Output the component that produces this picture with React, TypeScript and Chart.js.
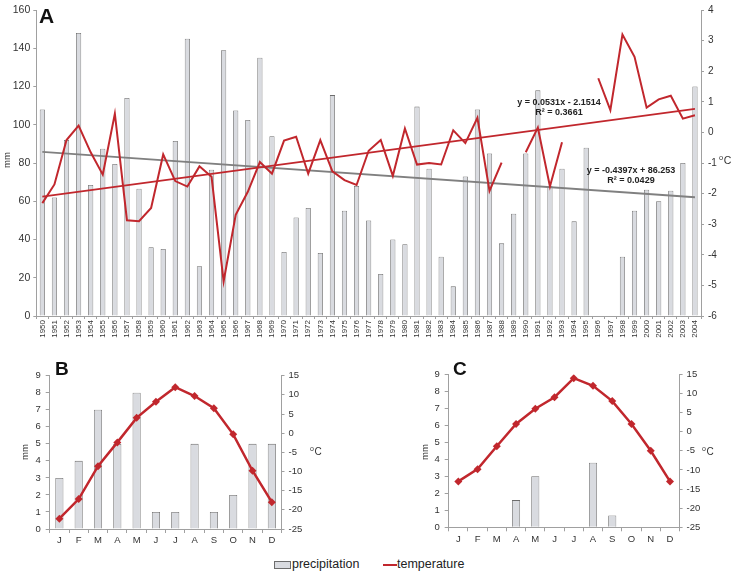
import React, { useEffect, useRef } from 'react';
import { Chart, registerables } from 'chart.js';
Chart.register(...registerables);

// ---------- DATA ----------
const years = [
  '1950','1951','1952','1953','1954','1955','1956','1957','1958','1959',
  '1960','1961','1962','1963','1964','1965','1966','1967','1968','1969',
  '1970','1971','1972','1973','1974','1975','1976','1977','1978','1979',
  '1980','1981','1982','1983','1984','1985','1986','1987','1988','1989',
  '1990','1991','1992','1993','1994','1995','1996','1997','1998','1999',
  '2000','2001','2002','2003','2004',
];
const precipA = [
  108, 62, 92, 148, 68.5, 87.5, 79.5, 114, 66.5, 36,
  35, 91.5, 145, 26, 76.5, 139, 107.5, 102.5, 135, 94,
  33.5, 51.5, 56.5, 33, 115.5, 55, 68, 50, 22, 40,
  37.5, 109.5, 77, 31, 15.5, 73, 108, 85, 38, 53.5,
  85, 118, 68, 77, 49.5, 88, null, null, 31, 55,
  66, 60, 65.5, 80, 120,
];
const tempA = [
  -2.31, -1.7, -0.25, 0.22, -0.65, -1.38, 0.61, -2.87, -2.9, -2.47,
  -0.72, -1.59, -1.77, -1.11, -1.45, -4.87, -2.69, -1.94, -0.97, -1.35,
  -0.27, -0.14, -1.35, -0.25, -1.27, -1.56, -1.72, -0.6, -0.25, -1.42,
  0.13, -1.05, -1.0, -1.05, 0.07, -0.35, 0.48, -1.91, -0.99, null,
  -0.65, 0.16, -1.77, -0.32, null, null, 1.77, 0.73, 3.2, 2.47,
  0.81, 1.08, 1.2, 0.45, 0.56,
];
const trendYears = ['1950', '2004'];
const precipTrendA = [85.8, 62.1];
const tempTrendA = [-2.1, 0.77];
const precipTrendText = ['y = -0.4397x + 86.253', 'R² = 0.0429'];
const tempTrendText = ['y = 0.0531x - 2.1514', 'R² = 0.3661'];

const months = ['J', 'F', 'M', 'A', 'M', 'J', 'J', 'A', 'S', 'O', 'N', 'D'];
const precipB = [3, 4, 7, 5, 8, 1, 1, 5, 1, 2, 5, 5];
const tempB = [-22.3, -17.2, -8.6, -2.4, 4.0, 8.2, 12.0, 9.7, 6.5, -0.3, -9.8, -18.0];
const precipC = [0, 0, 0, 1.6, 3.0, 0, 0, 3.8, 0.7, 0, 0, 0];
const tempC = [-13, -9.8, -3.8, 2, 6, 9, 14, 12, 8, 2, -5, -13];

// ---------- STYLE ----------
const FONT = "'Liberation Sans', Arial, Helvetica, sans-serif";
const RED = '#c1272d';
const BAR_FILL = '#d9dbe0';
const BAR_EDGE = '#6c6c6c';
const AXIS = '#a0a0a0';
const TICK = '#333333';
const GRAY_TREND = '#808080';

type TextItem = {
  text: string; x: number; y: number; font: string;
  align?: CanvasTextAlign; color?: string; rotate?: number;
};

const textPlugin = {
  id: 'extraText',
  afterDraw(chart: any, _a: any, opts: any) {
    const ctx = chart.ctx;
    (opts.items || []).forEach((t: TextItem) => {
      ctx.save();
      ctx.translate(t.x, t.y);
      if (t.rotate) ctx.rotate(t.rotate);
      ctx.font = t.font;
      ctx.fillStyle = t.color || '#222';
      ctx.textAlign = t.align || 'left';
      ctx.textBaseline = 'middle';
      ctx.fillText(t.text, 0, 0);
      ctx.restore();
    });
  },
};

const degItems = (x: number, y: number, size: number): TextItem[] => [
  { text: 'o', x, y: y - 3, font: `${size * 0.7}px ${FONT}`, color: TICK },
  { text: 'C', x: x + size * 0.45, y, font: `${size}px ${FONT}`, color: TICK },
];

const axisCommon = (tickLen: number) => ({
  grid: { display: true, drawOnChartArea: false, drawTicks: true, tickLength: tickLen, color: AXIS },
  border: { display: true, color: AXIS, width: 1 },
});

function useChart(ref: React.RefObject<HTMLCanvasElement>, make: () => any) {
  useEffect(() => {
    if (!ref.current) return;
    const c = new Chart(ref.current, make());
    return () => c.destroy();
  }, []);
}

function configA() {
  const items: TextItem[] = [
    { text: 'A', x: 39, y: 17, font: `bold 21px ${FONT}`, color: '#111' },
    { text: 'mm', x: 7, y: 160, font: `9.5px ${FONT}`, color: TICK, align: 'center', rotate: -Math.PI / 2 },
    ...degItems(719, 161, 10.5),
    { text: tempTrendText[0], x: 559, y: 103, font: `bold 9px ${FONT}`, align: 'center', color: '#222' },
    { text: tempTrendText[1], x: 559, y: 113, font: `bold 9px ${FONT}`, align: 'center', color: '#222' },
    { text: precipTrendText[0], x: 631, y: 171, font: `bold 9px ${FONT}`, align: 'center', color: '#222' },
    { text: precipTrendText[1], x: 631, y: 181, font: `bold 9px ${FONT}`, align: 'center', color: '#222' },
  ];
  return {
    type: 'bar',
    data: {
      labels: years,
      datasets: [
        { type: 'line', label: 'temperature', data: tempA, yAxisID: 'y1', borderColor: RED, borderWidth: 2, pointRadius: 0, spanGaps: false, order: 1 },
        { type: 'line', label: 'temperature trend', data: trendYears.map((x, i) => ({ x, y: tempTrendA[i] })), yAxisID: 'y1', borderColor: RED, borderWidth: 1.8, pointRadius: 0, order: 2 },
        { type: 'line', label: 'precipitation trend', data: trendYears.map((x, i) => ({ x, y: precipTrendA[i] })), yAxisID: 'y', borderColor: GRAY_TREND, borderWidth: 1.8, pointRadius: 0, order: 2 },
        { type: 'bar', label: 'precipitation', data: precipA, yAxisID: 'y', backgroundColor: BAR_FILL, borderColor: BAR_EDGE, borderWidth: 0.8, barPercentage: 0.43, categoryPercentage: 1, order: 3 },
      ],
    },
    options: {
      animation: false, responsive: false, maintainAspectRatio: false,
      layout: { padding: { top: 6, left: 0, right: 0, bottom: 0 } },
      plugins: { legend: { display: false }, tooltip: { enabled: false }, extraText: { items } },
      scales: {
        x: {
          ...axisCommon(3),
          ticks: { font: { family: FONT, size: 8 }, color: TICK, padding: 1, maxRotation: 90, minRotation: 90, autoSkip: false },
          afterFit: (s: any) => { s.height = 29; },
        },
        y: {
          position: 'left', min: 0, max: 160,
          ...axisCommon(3),
          ticks: { font: { family: FONT, size: 10.5 }, color: TICK, padding: 3, stepSize: 20 },
          afterFit: (s: any) => { s.width = 36.3; },
        },
        y1: {
          position: 'right', min: -6, max: 4,
          ...axisCommon(3),
          ticks: { font: { family: FONT, size: 10 }, color: TICK, padding: 4, stepSize: 1 },
          afterFit: (s: any) => { s.width = 32; },
        },
      },
    },
    plugins: [textPlugin],
  };
}

function configMonthly(p: {
  precip: number[]; temp: number[]; letter: string; letterX: number; mmX: number; degX: number;
  top: number; leftW: number; rightW: number; xH: number;
}) {
  const items: TextItem[] = [
    { text: p.letter, x: p.letterX, y: 20, font: `bold 19px ${FONT}`, color: '#111' },
    { text: 'mm', x: p.mmX, y: 102, font: `9.5px ${FONT}`, color: TICK, align: 'center', rotate: -Math.PI / 2 },
    ...degItems(p.degX, 102, 10),
  ];
  return {
    type: 'bar',
    data: {
      labels: months,
      datasets: [
        { type: 'line', label: 'temperature', data: p.temp, yAxisID: 'y1', borderColor: RED, backgroundColor: RED, borderWidth: 2.5, pointRadius: 4, pointStyle: 'rectRot', pointBorderWidth: 0, order: 1 },
        { type: 'bar', label: 'precipitation', data: p.precip, yAxisID: 'y', backgroundColor: BAR_FILL, borderColor: BAR_EDGE, borderWidth: 0.8, barPercentage: 0.42, categoryPercentage: 1, order: 2 },
      ],
    },
    options: {
      animation: false, responsive: false, maintainAspectRatio: false,
      layout: { padding: { top: p.top, left: 0, right: 0, bottom: 0 } },
      plugins: { legend: { display: false }, tooltip: { enabled: false }, extraText: { items } },
      scales: {
        x: {
          ...axisCommon(4),
          ticks: { font: { family: FONT, size: 9.5 }, color: TICK, padding: 2, maxRotation: 0, autoSkip: false },
          afterFit: (s: any) => { s.height = p.xH; },
        },
        y: {
          position: 'left', min: 0, max: 9,
          ...axisCommon(4),
          ticks: { font: { family: FONT, size: 9.5 }, color: TICK, padding: 5, stepSize: 1 },
          afterFit: (s: any) => { s.width = p.leftW; },
        },
        y1: {
          position: 'right', min: -25, max: 15,
          ...axisCommon(3),
          ticks: { font: { family: FONT, size: 9.5 }, color: TICK, padding: 4, stepSize: 5 },
          afterFit: (s: any) => { s.width = p.rightW; },
        },
      },
    },
    plugins: [textPlugin],
  };
}

export default function App() {
  const refA = useRef<HTMLCanvasElement>(null);
  const refB = useRef<HTMLCanvasElement>(null);
  const refC = useRef<HTMLCanvasElement>(null);

  useChart(refA, configA);
  useChart(refB, () => configMonthly({
    precip: precipB, temp: tempB, letter: 'B', letterX: 55, mmX: 25, degX: 310,
    top: 25.7, leftW: 49.7, rightW: 84.5, xH: 21,
  }));
  useChart(refC, () => configMonthly({
    precip: precipC, temp: tempC, letter: 'C', letterX: 87, mmX: 59, degX: 336,
    top: 24.3, leftW: 82.7, rightW: 53.4, xH: 22.7,
  }));

  const legendText: React.CSSProperties = {
    position: 'absolute', top: 556, font: `12.5px ${FONT}`, lineHeight: '17px', color: '#222', whiteSpace: 'nowrap',
  };

  return (
    <div style={{ position: 'absolute', left: 0, top: 0, width: 733, height: 573, background: '#fff', overflow: 'hidden' }}>
      <canvas ref={refA} width={733} height={345} style={{ position: 'absolute', left: 0, top: 0, width: 733, height: 345 }} />
      <canvas ref={refB} width={366} height={200} style={{ position: 'absolute', left: 0, top: 350, width: 366, height: 200 }} />
      <canvas ref={refC} width={367} height={200} style={{ position: 'absolute', left: 366, top: 350, width: 367, height: 200 }} />
      <div style={{ position: 'absolute', left: 274, top: 561, width: 17, height: 8, background: BAR_FILL, border: `1px solid ${BAR_EDGE}`, boxSizing: 'border-box' }} />
      <div style={{ ...legendText, left: 292 }}>precipitation</div>
      <div style={{ position: 'absolute', left: 383, top: 563.5, width: 14, height: 2.5, background: RED }} />
      <div style={{ ...legendText, left: 397 }}>temperature</div>
    </div>
  );
}
